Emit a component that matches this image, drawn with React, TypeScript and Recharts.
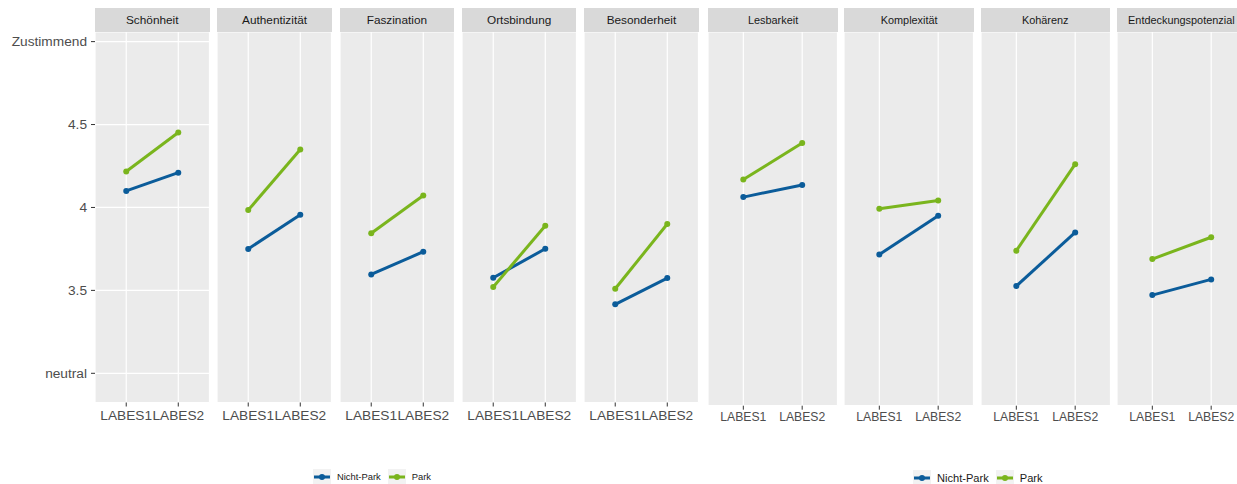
import React from 'react';
import { LineChart, Line, XAxis, YAxis, CartesianGrid } from 'recharts';

const CATEGORIES = ['LABES1', 'LABES2'];

const SERIES = [
    { key: 'np', name: 'Nicht-Park', color: '#0b5c9a' },
    { key: 'park', name: 'Park', color: '#7ab51d' },
];

// left figure (labelled y axis)
const LEFT_FACETS = ['Schönheit', 'Authentizität', 'Faszination', 'Ortsbindung', 'Besonderheit'];
const LEFT_NICHT_PARK = [[4.10, 4.21], [3.75, 3.956], [3.596, 3.733], [3.576, 3.751], [3.416, 3.574]];
const LEFT_PARK = [[4.217, 4.452], [3.984, 4.349], [3.845, 4.072], [3.52, 3.89], [3.51, 3.90]];
const LEFT_Y_TICKS = [3, 3.5, 4, 4.5, 5];
const LEFT_Y_LABELS = ['neutral', '3.5', '4', '4.5', 'Zustimmend'];

// right figure (ticks without labels)
const RIGHT_FACETS = ['Lesbarkeit', 'Komplexität', 'Kohärenz', 'Entdeckungspotenzial'];
const RIGHT_NICHT_PARK = [[4.058, 4.124], [3.748, 3.957], [3.577, 3.867], [3.528, 3.613]];
const RIGHT_PARK = [[4.153, 4.351], [3.995, 4.04], [3.768, 4.236], [3.723, 3.841]];
const RIGHT_Y_TICKS = [3, 3.5, 4, 4.5];

const PLOT_TOP = 32;
const X_AXIS_H = 30;

interface PanelProps {
    left: number;
    width: number;
    title: string;
    np: number[];
    park: number[];
    domain: [number, number];
    ticks: number[];
    bottom: number;
    stripFont: number;
    xFont: number;
    xMargin: number;
    axisWidth?: number;
    axisMode?: 'labels' | 'marks' | 'none';
}

const Panel: React.FC<PanelProps> = ({
    left, width, title, np, park, domain, ticks, bottom, stripFont, xFont, xMargin,
    axisWidth = 0, axisMode = 'none',
}) => {
    const data = CATEGORIES.map((c, i) => ({ cat: c, np: np[i], park: park[i] }));
    const pad = width * 0.2727;
    const plotH = bottom - PLOT_TOP;

    return (
        <>
            <div
                style={{
                    position: 'absolute', left, top: 8, width, height: 24, background: '#d9d9d9',
                    display: 'flex', alignItems: 'center', justifyContent: 'center',
                    fontSize: stripFont, color: '#1a1a1a', whiteSpace: 'nowrap',
                }}
            >
                {title}
            </div>
            <div style={{ position: 'absolute', left: left - axisWidth, top: PLOT_TOP }}>
                <LineChart
                    width={width + axisWidth}
                    height={plotH + X_AXIS_H}
                    data={data}
                    margin={{ top: 0, right: 0, bottom: 0, left: 0 }}
                >
                    <CartesianGrid fill="#ebebeb" stroke="#ffffff" strokeWidth={1.2} />
                    <XAxis
                        dataKey="cat"
                        height={X_AXIS_H}
                        padding={{ left: pad, right: pad }}
                        axisLine={false}
                        tickSize={4}
                        tickMargin={xMargin}
                        tickLine={{ stroke: '#333333' }}
                        tick={{ fill: '#4d4d4d', fontSize: xFont }}
                        interval={0}
                    />
                    <YAxis
                        type="number"
                        domain={domain}
                        ticks={ticks}
                        allowDataOverflow
                        width={axisWidth}
                        axisLine={false}
                        tickLine={axisMode === 'none' ? false : { stroke: '#333333' }}
                        tickSize={axisMode === 'marks' ? 3 : 4}
                        tickMargin={4}
                        tick={axisMode === 'labels' ? { fill: '#4d4d4d', fontSize: 13.7 } : false}
                        tickFormatter={(v: number) => LEFT_Y_LABELS[LEFT_Y_TICKS.indexOf(v)] ?? ''}
                    />
                    {SERIES.map((s) => (
                        <Line
                            key={s.key}
                            dataKey={s.key}
                            stroke={s.color}
                            strokeWidth={3}
                            dot={{ r: 3, fill: s.color, stroke: 'none' }}
                            activeDot={false}
                            isAnimationActive={false}
                        />
                    ))}
                </LineChart>
            </div>
        </>
    );
};

const Legend: React.FC<{ left: number; center: number; fontSize: number }> = ({ left, center, fontSize }) => (
    <div
        style={{
            position: 'absolute', left, top: center - 8, height: 16,
            display: 'flex', alignItems: 'center', fontSize, color: '#1a1a1a',
        }}
    >
        {SERIES.map((s) => (
            <div key={s.key} style={{ display: 'flex', alignItems: 'center', marginRight: 7 }}>
                <svg width={18} height={16} style={{ marginRight: 6 }}>
                    <rect x={0} y={0} width={18} height={16} fill="#f2f2f2" />
                    <line x1={1} y1={8} x2={17} y2={8} stroke={s.color} strokeWidth={3} />
                    <circle cx={9} cy={8} r={3} fill={s.color} />
                </svg>
                <span>{s.name}</span>
            </div>
        ))}
    </div>
);

export default function App() {
    return (
        <div
            style={{
                position: 'absolute', left: 0, top: 0, width: 1237, height: 484, overflow: 'hidden',
                background: '#ffffff', fontFamily: '"Liberation Sans", Arial, sans-serif',
            }}
        >
            {LEFT_FACETS.map((f, i) => (
                <Panel
                    key={f}
                    left={95 + i * 122.3}
                    width={114.5}
                    title={f}
                    np={LEFT_NICHT_PARK[i]}
                    park={LEFT_PARK[i]}
                    domain={[2.824, 5.058]}
                    ticks={LEFT_Y_TICKS}
                    bottom={402.5}
                    stripFont={11.8}
                    xFont={13.7}
                    xMargin={4}
                    axisWidth={i === 0 ? 95 : 0}
                    axisMode={i === 0 ? 'labels' : 'none'}
                />
            ))}
            {RIGHT_FACETS.map((f, i) => (
                <Panel
                    key={f}
                    left={708.3 + i * 136.1}
                    width={129.5}
                    title={f}
                    np={RIGHT_NICHT_PARK[i]}
                    park={RIGHT_PARK[i]}
                    domain={[2.93, 4.951]}
                    ticks={RIGHT_Y_TICKS}
                    bottom={405.7}
                    stripFont={10.9}
                    xFont={12.2}
                    xMargin={3}
                    axisWidth={i === 0 ? 5 : 0}
                    axisMode={i === 0 ? 'marks' : 'none'}
                />
            ))}
            <Legend left={313} center={476.5} fontSize={9.4} />
            <Legend left={913} center={477.5} fontSize={11.1} />
        </div>
    );
}
